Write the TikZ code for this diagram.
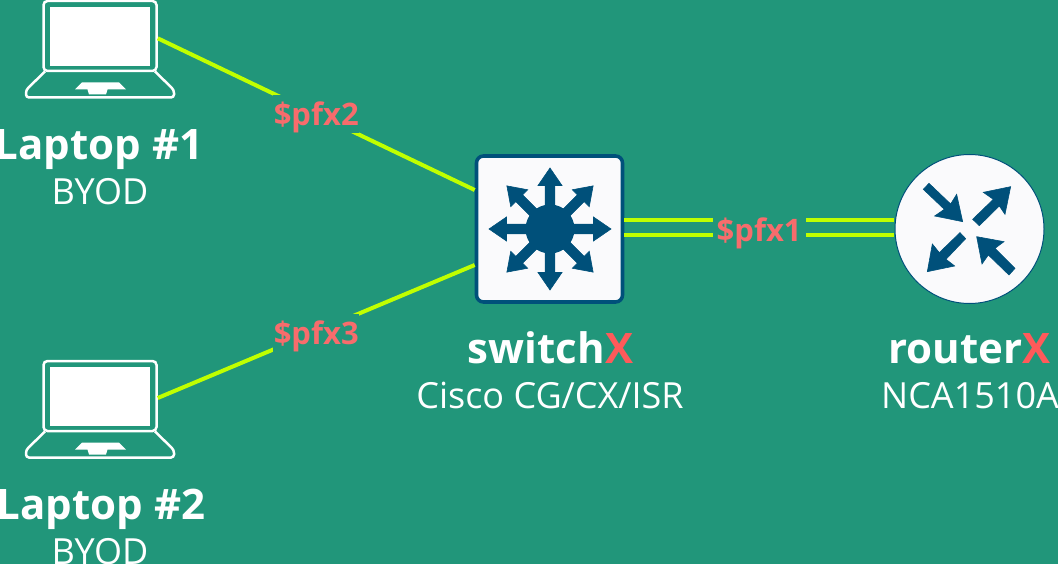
\documentclass[tikz,border=0pt]{standalone}
\usepackage{fontspec}
\setmainfont{Open Sans}
\definecolor{bgc}{HTML}{21967A}
\definecolor{iconc}{HTML}{00507A}
\definecolor{paper}{HTML}{FAFAFC}
\definecolor{linkc}{HTML}{C0FF00}
\definecolor{labc}{HTML}{F76C6C}
\definecolor{redx}{HTML}{FF5A5A}
\tikzset{
  link/.style={draw=linkc,line width=4pt},
  glyph/.style={fill=iconc,draw=iconc,line width=0.6pt,line join=miter},
  tag/.style={fill=bgc,text=labc,font=\fontsize{31}{31}\selectfont\bfseries,inner sep=0pt,minimum width=86pt,minimum height=38.5pt,text height=22pt,text depth=0pt},
  title/.style={anchor=base,text=white,inner sep=0pt,font=\fontsize{42}{42}\selectfont\bfseries},
  sub/.style={anchor=base,text=white,inner sep=0pt,font=\fontsize{36}{36}\selectfont},
  pics/laptop/.style={code={
    \node[draw=white,line width=2.5pt,rounded corners=4pt,fill=none,minimum width=113pt,minimum height=70pt,inner sep=0pt] (-lid) at (0,36) {};
    \node[fill=white,minimum width=100pt,minimum height=58.7pt,inner sep=0pt] (-screen) at (0,36.5) {};
    \draw[white,line width=2.5pt,rounded corners=3pt] (-55,71.5) -- (-74,90) -- (-74,97.5) -- (74,97.5) -- (74,90) -- (55,71.5);
    \fill[white] (-18,82.5) -- (19,82.5) -- (26,89.5) -- (7.5,89.5) -- (6,94.5) -- (-11,94.5) -- (-12.5,89.5) -- (-25,89.5) -- cycle;
  }}
}
\begin{document}
\begin{tikzpicture}[x=1pt,y=-1pt]
\useasboundingbox (0,0) rectangle (1058,564);
\fill[bgc] (0,0) rectangle (1058,564);

\pic (lapa) at (100,0) {laptop};
\pic (lapb) at (100,360) {laptop};

% switch
\node[draw=iconc,fill=paper,line width=3.6pt,rounded corners=7pt,minimum size=146pt,inner sep=0pt] (sw) at (549.5,229) {};
\begin{scope}[shift={(550,229)}]
  \fill[iconc] (0,0) circle (24.5);
  \foreach \a in {0,45,...,315}{
    \path[glyph,rotate=\a] (0,-4.8) -- (43.5,-4.8) -- (43.5,-12) -- (61,0) -- (43.5,12) -- (43.5,4.8) -- (0,4.8) -- cycle;
  }
\end{scope}

% router
\node[circle,draw=iconc,fill=paper,line width=1pt,minimum size=149pt,inner sep=0pt] (rt) at (969.5,229) {};
\begin{scope}[shift={(880,150)},x=0.3333pt,y=-0.3333pt]
  \path[glyph] (147,100) -- (212,162) -- (230,133) -- (248,215) -- (164,198) -- (193,178) -- (130,118) -- cycle;
  \path[glyph] (278,208) -- (340,148) -- (310,127) -- (392,110) -- (375,193) -- (358,168) -- (298,227) -- cycle;
  \path[glyph] (240,248) -- (178,308) -- (157,282) -- (142,365) -- (224,348) -- (198,328) -- (257,266) -- cycle;
  \path[glyph] (405,355) -- (345,295) -- (372,275) -- (290,260) -- (306,342) -- (325,315) -- (387,375) -- cycle;
\end{scope}

% links
\draw[link] ([yshift=-2.3pt]lapa-lid.east) -- node[tag,pos=0.5] (tagb) {\$pfx2} ([yshift=39pt]sw.west);
\draw[link] ([yshift=-2pt]lapb-lid.east) -- node[tag,pos=0.5,yshift=-2pt] (tagc) {\$pfx3} ([yshift=-36pt]sw.west);
\draw[link] ([yshift=9.4pt]sw.east) -- ([shift={(-1pt,9.4pt)}]rt.west);
\draw[link] ([yshift=-5.6pt]sw.east) -- ([shift={(-1pt,-5.6pt)}]rt.west);
\node[tag,minimum width=93pt] (taga) at (759.2,231) {\$pfx1};

% texts
\node[title] (ta) at (99,159.5) {Laptop \#1};
\node[sub] (sa) at (100,204.5) {BYOD};
\node[title] (tb) at (101,519.5) {Laptop \#2};
\node[sub] (sb) at (100,564.5) {BYOD};
\node[title] (ts) at (550.5,363.5) {switch\textcolor{redx}{X}};
\node[sub] (ss) at (550,408.5) {Cisco CG/CX/ISR};
\node[title] (tr) at (969.5,363.5) {router\textcolor{redx}{X}};
\node[sub] (sr) at (970,408.5) {NCA1510A};
\end{tikzpicture}
\end{document}
